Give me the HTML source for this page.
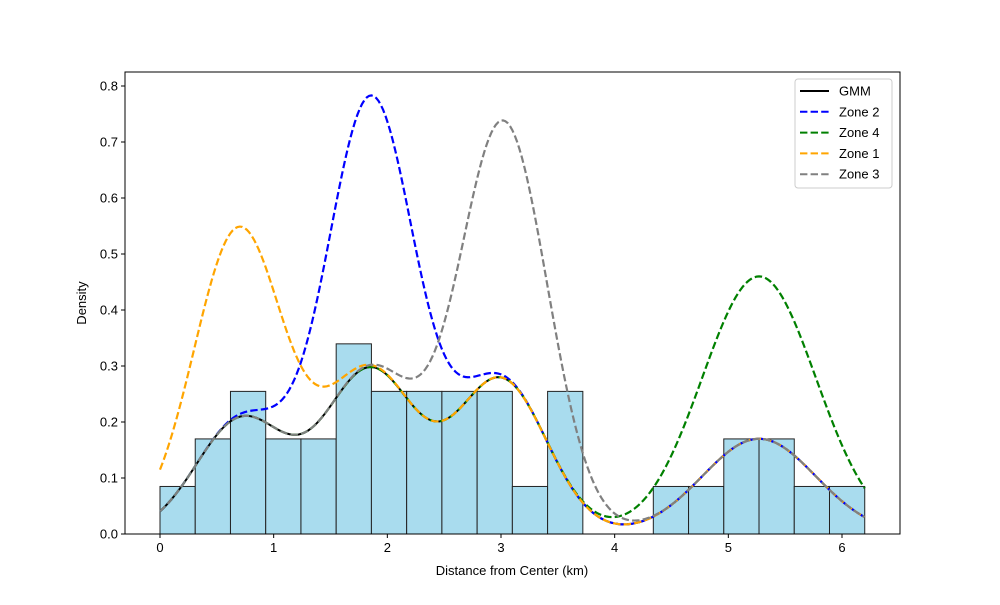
<!DOCTYPE html>
<html><head><meta charset="utf-8"><style>
body{margin:0;background:#fff;}
svg text{font-family:"Liberation Sans","DejaVu Sans",sans-serif;}
</style></head><body>
<svg id="chart" width="1000" height="600" xmlns="http://www.w3.org/2000/svg">
<rect x="0" y="0" width="1000" height="600" fill="#fff"/>
<g id="bars"></g>
<g id="curves"></g>
<g id="axes"></g>
<g id="legend"></g>
</svg>
<script>
const binCounts = [1,2,3,2,2,4,3,3,3,3,1,3,0,0,1,1,2,2,1,1];
const binStart = 0, binEnd = 6.2;
const compMeans = [0.72, 1.85, 3.0, 5.27];
const compSds = [0.4, 0.4, 0.4, 0.5];
const compPeaks = [0.205, 0.29, 0.275, 0.17];
const zoneNames = ["Zone 2","Zone 4","Zone 1","Zone 3"];
const zoneMeans = [1.86, 5.27, 0.68, 3.03];
const zoneExtraPeaks = [0.485, 0.29, 0.34, 0.46];
const zoneExtraSds = [0.38, 0.5, 0.39, 0.38];
const zoneColors = ["#0000ff","#008000","#ffa500","#808080"];
const xTicks = [0,1,2,3,4,5,6];
const yTicks = [0,0.1,0.2,0.3,0.4,0.5,0.6,0.7,0.8];

const NS="http://www.w3.org/2000/svg";
const L=125,R=900,T=72,B=534;
const X=v=>160+v*(842-160)/6;
const Y=v=>534-v*560;
function mk(tag,attrs,parent){const e=document.createElementNS(NS,tag);for(const k in attrs)e.setAttribute(k,attrs[k]);parent.appendChild(e);return e;}
const total=binCounts.reduce((a,b)=>a+b,0);
const bw=(binEnd-binStart)/binCounts.length;
const gb=document.getElementById('bars');
binCounts.forEach((c,i)=>{
 const d=c/(total*bw); if(c===0) return;
 const r=mk('rect',{x:X(binStart+i*bw),y:Y(d),width:X(binStart+(i+1)*bw)-X(binStart+i*bw),height:Y(0)-Y(d),fill:'#a9dcee',stroke:'#222','stroke-width':1},gb);
 
 
});
function gau(x,m,s,p){return p*Math.exp(-Math.pow(x-m,2)/(2*s*s));}
function gmm(x){let s=0;for(let k=0;k<compMeans.length;k++)s+=gau(x,compMeans[k],compSds[k],compPeaks[k]);return s;}
const gc=document.getElementById('curves');
function path(fn){let d='';for(let i=0;i<=300;i++){const x=binStart+(binEnd-binStart)*i/300;d+=(i?'L':'M')+X(x).toFixed(2)+','+Y(fn(x)).toFixed(2);}return d;}
const pg=mk('path',{d:path(gmm),fill:'none',stroke:'#000','stroke-width':2},gc);


zoneNames.forEach((n,i)=>{
 const p=mk('path',{d:path(x=>gmm(x)+gau(x,zoneMeans[i],zoneExtraSds[i],zoneExtraPeaks[i])),fill:'none',stroke:zoneColors[i],'stroke-width':2.2,'stroke-dasharray':'7.4,3.2'},gc);
 
 
});
const ga=document.getElementById('axes');
mk('rect',{x:L,y:T,width:R-L,height:B-T,fill:'none',stroke:'#000','stroke-width':1},ga);
xTicks.forEach(t=>{mk('line',{x1:X(t),x2:X(t),y1:B,y2:B+4,stroke:'#000'},ga);
 const tx=mk('text',{x:X(t),y:B+18,'text-anchor':'middle','font-size':13},ga);tx.textContent=t;
 
 });
yTicks.forEach(t=>{mk('line',{x1:L-4,x2:L,y1:Y(t),y2:Y(t),stroke:'#000'},ga);
 const tx=mk('text',{x:L-7,y:Y(t)+4.5,'text-anchor':'end','font-size':13},ga);tx.textContent=t.toFixed(1);
 
 });
const xl=mk('text',{x:512,y:575,'text-anchor':'middle','font-size':13},ga);xl.textContent='Distance from Center (km)';


const yl=mk('text',{x:86,y:303,'text-anchor':'middle','font-size':13,transform:'rotate(-90 86 303)'},ga);yl.textContent='Density';


const gl=document.getElementById('legend');
mk('rect',{x:795,y:79,width:97,height:109,rx:3,fill:'#fff','fill-opacity':0.8,stroke:'#ccc'},gl);
const names=['GMM'].concat(zoneNames), cols=['#000'].concat(zoneColors);
names.forEach((n,i)=>{const y=91+i*20.8;
 mk('line',{x1:800,x2:829,y1:y,y2:y,stroke:cols[i],'stroke-width':2,'stroke-dasharray':i?'7.4,3.2':'none'},gl);
 const t=mk('text',{x:839,y:y+4.5,'font-size':13},gl);t.textContent=n;
 
 });
</script>
</body></html>
